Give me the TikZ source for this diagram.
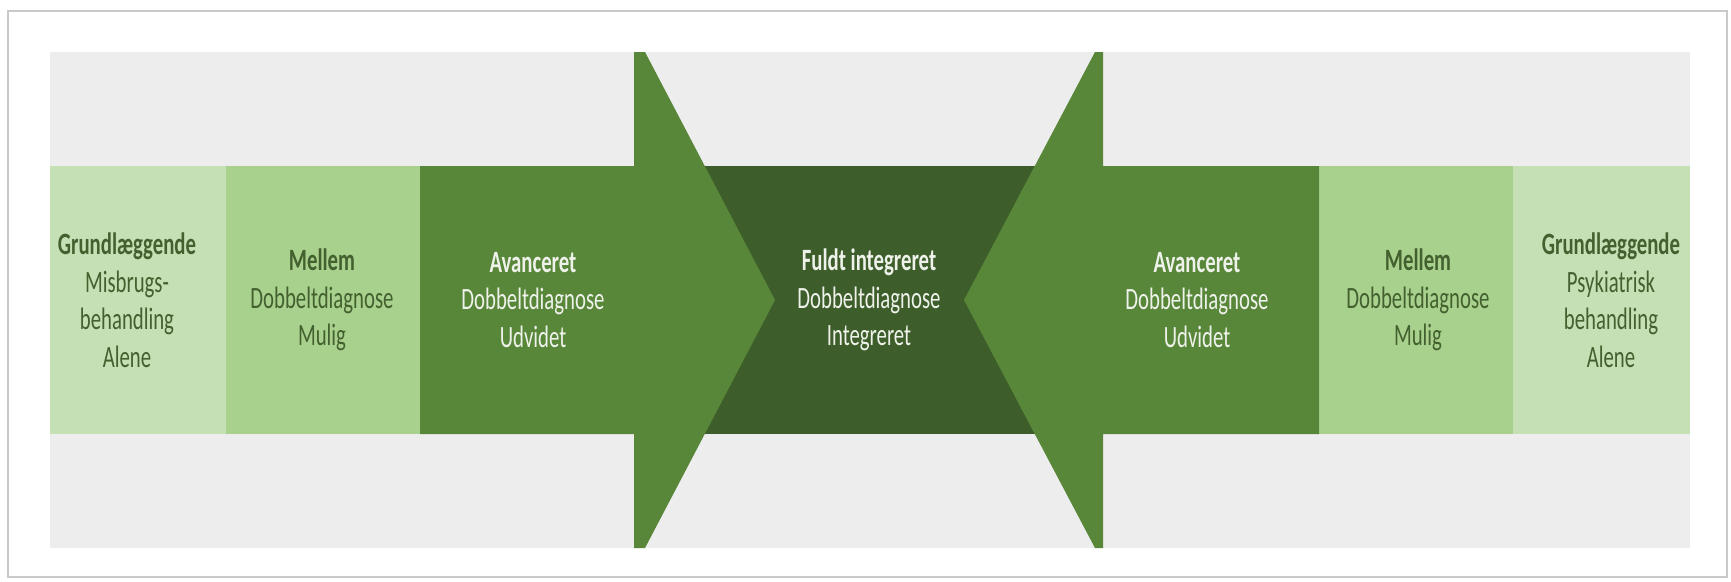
\documentclass[tikz,border=0pt]{standalone}
\usepackage{fontspec}
\setmainfont{Carlito}[FakeStretch=0.67]
\definecolor{bggray}{HTML}{EDEDED}
\definecolor{framegray}{HTML}{C9C9C9}
\definecolor{lightg}{HTML}{C5E0B4}
\definecolor{midg}{HTML}{A9D18E}
\definecolor{advg}{HTML}{58873A}
\definecolor{darkg}{HTML}{3D5E2A}
\definecolor{lighttxt}{HTML}{43602F}
\definecolor{darktxt}{HTML}{EEF2EA}
\begin{document}
\begin{tikzpicture}[x=1pt,y=-1pt,
  txt/.style={align=center, font=\fontsize{31}{37.5}\selectfont, inner sep=0pt},
  ontxt/.style={txt, text=lighttxt},
  offtxt/.style={txt, text=darktxt}]
\useasboundingbox (0,0) rectangle (1731,581);
\fill[white] (0,0) rectangle (1731,581);
\draw[framegray, line width=2pt, fill=white] (8,11) rectangle (1727,577);
\fill[bggray] (50,52) rectangle (1690,548);
% band boxes
\fill[lightg] (50,166) rectangle (226,434);
\fill[midg] (226,166) rectangle (420,434);
\fill[midg] (1319,166) rectangle (1513,434);
\fill[lightg] (1513,166) rectangle (1690,434);
\fill[darkg] (700,166) rectangle (1040,434);
% arrows
\fill[advg] (420,166) -- (634,166) -- (634,52) -- (645,52) -- (775,300) -- (645,548) -- (634,548) -- (634,434) -- (420,434) -- cycle;
\fill[advg] (1319,166) -- (1103,166) -- (1103,52) -- (1095,52) -- (964,300) -- (1095,548) -- (1103,548) -- (1103,434) -- (1319,434) -- cycle;
% texts
\node[ontxt] (gl) at (127,300) {\textbf{Grundlæggende}\\Misbrugs-\\behandling\\Alene};
\node[ontxt] (ml) at (322,300) {\textbf{Mellem}\\Dobbeltdiagnose\\Mulig};
\node[offtxt] (al) at (533,300) {\textbf{Avanceret}\\Dobbeltdiagnose\\Udvidet};
\node[offtxt] (fi) at (869,300) {\textbf{Fuldt integreret}\\Dobbeltdiagnose\\Integreret};
\node[offtxt] (ar) at (1197,300) {\textbf{Avanceret}\\Dobbeltdiagnose\\Udvidet};
\node[ontxt] (mr) at (1418,300) {\textbf{Mellem}\\Dobbeltdiagnose\\Mulig};
\node[ontxt] (gr) at (1611,300) {\textbf{Grundlæggende}\\Psykiatrisk\\behandling\\Alene};
\end{tikzpicture}
\end{document}
